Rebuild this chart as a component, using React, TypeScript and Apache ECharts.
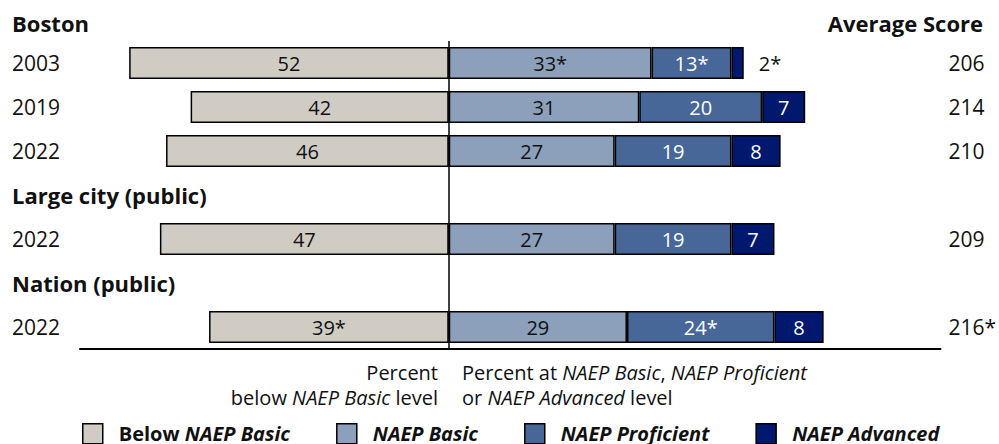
import React, { useEffect, useRef } from 'react';
import * as echarts from 'echarts';

const FONT = '"Open Sans", "Noto Sans", sans-serif';
const TEXT = '#111111';

const rowLabels = ['2003', '2019', '2022', 'Large city (public)', '2022', 'Nation (public)', '2022'];
const rowIsHeader = [false, false, false, true, false, true, false];

const belowBasic = [52, 42, 46, null, 47, null, 39];
const atBasic = [33, 31, 27, null, 27, null, 29];
const atProficient = [13, 20, 19, null, 19, null, 24];
const atAdvanced = [2, 7, 8, null, 7, null, 8];

const belowSig = [false, false, false, false, false, false, true];
const basicSig = [true, false, false, false, false, false, false];
const proficientSig = [true, false, false, false, false, false, true];
const advancedSig = [true, false, false, false, false, false, false];

const avgScores = ['206', '214', '210', '', '209', '', '216*'];

const seriesNames = ['Below NAEP Basic', 'NAEP Basic', 'NAEP Proficient', 'NAEP Advanced'];
const colors = ['#D0CCC4', '#8CA0BC', '#466798', '#00186E'];

export default function App() {
  const ref = useRef<HTMLDivElement>(null);

  useEffect(() => {
    if (!ref.current) return;
    const chart = echarts.init(ref.current, undefined, { renderer: 'svg' });

    const fmt = (sig: boolean[]) => (p: any) => {
      const v = Math.abs(Number(p.value));
      return v + (sig[p.dataIndex] ? '*' : '');
    };

    const toData = (arr: (number | null)[], sign: number, smallOutside = false) =>
      arr.map((v) => {
        if (v == null) return '-';
        if (smallOutside && v < 4) {
          return {
            value: sign * v,
            label: { position: 'right', color: TEXT, distance: 15 },
          };
        }
        return sign * v;
      });

    const labelBase = { show: true, position: 'inside', fontSize: 20, fontFamily: FONT };
    const itemBase = { borderColor: '#000', borderWidth: 1.5 };

    chart.setOption({
      animation: false,
      textStyle: { fontFamily: FONT },
      grid: { left: 80, right: 57, top: 41, height: 308, containLabel: false },
      xAxis: {
        type: 'value',
        min: -60,
        max: 80,
        axisLine: { show: true, lineStyle: { color: '#000', width: 2 } },
        axisTick: { show: false },
        axisLabel: { show: false },
        splitLine: { show: false },
      },
      yAxis: [
        {
          type: 'category',
          inverse: true,
          data: rowLabels,
          axisLine: { show: false },
          axisTick: { show: false },
          axisLabel: {
            align: 'left',
            margin: 68,
            fontSize: 21,
            color: TEXT,
            fontFamily: FONT,
            formatter: (val: string, idx: number) => (rowIsHeader[idx] ? `{h|${val}}` : val),
            rich: { h: { fontWeight: 'bold', fontSize: 22, color: TEXT, fontFamily: FONT } },
          },
        },
        {
          type: 'category',
          inverse: true,
          position: 'right',
          data: avgScores,
          axisLine: { show: false },
          axisTick: { show: false },
          axisLabel: { align: 'left', margin: 8, fontSize: 21, color: TEXT, fontFamily: FONT },
        },
      ],
      legend: {
        left: 82,
        top: 423,
        padding: 0,
        itemWidth: 20,
        itemHeight: 20,
        itemGap: 46,
        icon: 'rect',
        data: seriesNames,
        itemStyle: { borderColor: '#000', borderWidth: 1.5 },
        formatter: (name: string) =>
          name.startsWith('Below') ? `{b|Below }{bi|${name.replace('Below ', '')}}` : `{bi|${name}}`,
        textStyle: {
          fontSize: 20,
          fontWeight: 'bold',
          color: TEXT,
          fontFamily: FONT,
          lineHeight: 20,
          padding: [0, 0, 0, 11],
          rich: {
            b: { fontSize: 20, fontWeight: 'bold', color: TEXT, fontFamily: FONT, lineHeight: 20 },
            bi: { fontSize: 20, fontWeight: 'bold', fontStyle: 'italic', color: TEXT, fontFamily: FONT, lineHeight: 20 },
          },
        },
      },
      series: [
        {
          name: seriesNames[0],
          type: 'bar',
          stack: 'total',
          barWidth: 32,
          data: toData(belowBasic, -1),
          itemStyle: { color: colors[0], ...itemBase },
          label: { ...labelBase, color: TEXT, formatter: fmt(belowSig) },
          markLine: {
            silent: true,
            symbol: ['none', 'none'],
            label: { show: false },
            lineStyle: { color: '#000', width: 1.5, type: 'solid' },
            data: [{ xAxis: 0 }],
          },
        },
        {
          name: seriesNames[1],
          type: 'bar',
          stack: 'total',
          barWidth: 32,
          data: toData(atBasic, 1),
          itemStyle: { color: colors[1], ...itemBase },
          label: { ...labelBase, color: TEXT, formatter: fmt(basicSig) },
        },
        {
          name: seriesNames[2],
          type: 'bar',
          stack: 'total',
          barWidth: 32,
          data: toData(atProficient, 1),
          itemStyle: { color: colors[2], ...itemBase },
          label: { ...labelBase, color: '#fff', formatter: fmt(proficientSig) },
        },
        {
          name: seriesNames[3],
          type: 'bar',
          stack: 'total',
          barWidth: 32,
          data: toData(atAdvanced, 1, true),
          itemStyle: { color: colors[3], ...itemBase },
          label: { ...labelBase, color: '#fff', formatter: fmt(advancedSig) },
        },
      ],
      graphic: [
        {
          type: 'text',
          x: 12,
          y: 23,
          style: { text: 'Boston', fontSize: 22, fontWeight: 'bold', fontFamily: FONT, fill: TEXT, align: 'left', verticalAlign: 'middle' },
        },
        {
          type: 'text',
          x: 983,
          y: 23,
          style: { text: 'Average Score', fontSize: 22, fontWeight: 'bold', fontFamily: FONT, fill: TEXT, align: 'right', verticalAlign: 'middle' },
        },
        {
          type: 'text',
          x: 438,
          y: 360,
          style: {
            text: '{n|Percent}\n{n|below }{i|NAEP Basic}{n| level}',
            align: 'right',
            verticalAlign: 'top',
            fontSize: 20,
            fontFamily: FONT,
            fill: TEXT,
            lineHeight: 25,
            rich: {
              n: { fontSize: 20, fontFamily: FONT, fill: TEXT, lineHeight: 25 },
              i: { fontSize: 20, fontFamily: FONT, fill: TEXT, fontStyle: 'italic', lineHeight: 25 },
            },
          },
        },
        {
          type: 'text',
          x: 462,
          y: 360,
          style: {
            text: '{n|Percent at }{i|NAEP Basic}{n|, }{i|NAEP Proficient}\n{n|or }{i|NAEP Advanced}{n| level}',
            align: 'left',
            verticalAlign: 'top',
            fontSize: 20,
            fontFamily: FONT,
            fill: TEXT,
            lineHeight: 25,
            rich: {
              n: { fontSize: 20, fontFamily: FONT, fill: TEXT, lineHeight: 25 },
              i: { fontSize: 20, fontFamily: FONT, fill: TEXT, fontStyle: 'italic', lineHeight: 25 },
            },
          },
        },
      ],
    });

    return () => chart.dispose();
  }, []);

  return <div ref={ref} style={{ position: 'absolute', left: 0, top: 0, width: 999, height: 444 }} />;
}
